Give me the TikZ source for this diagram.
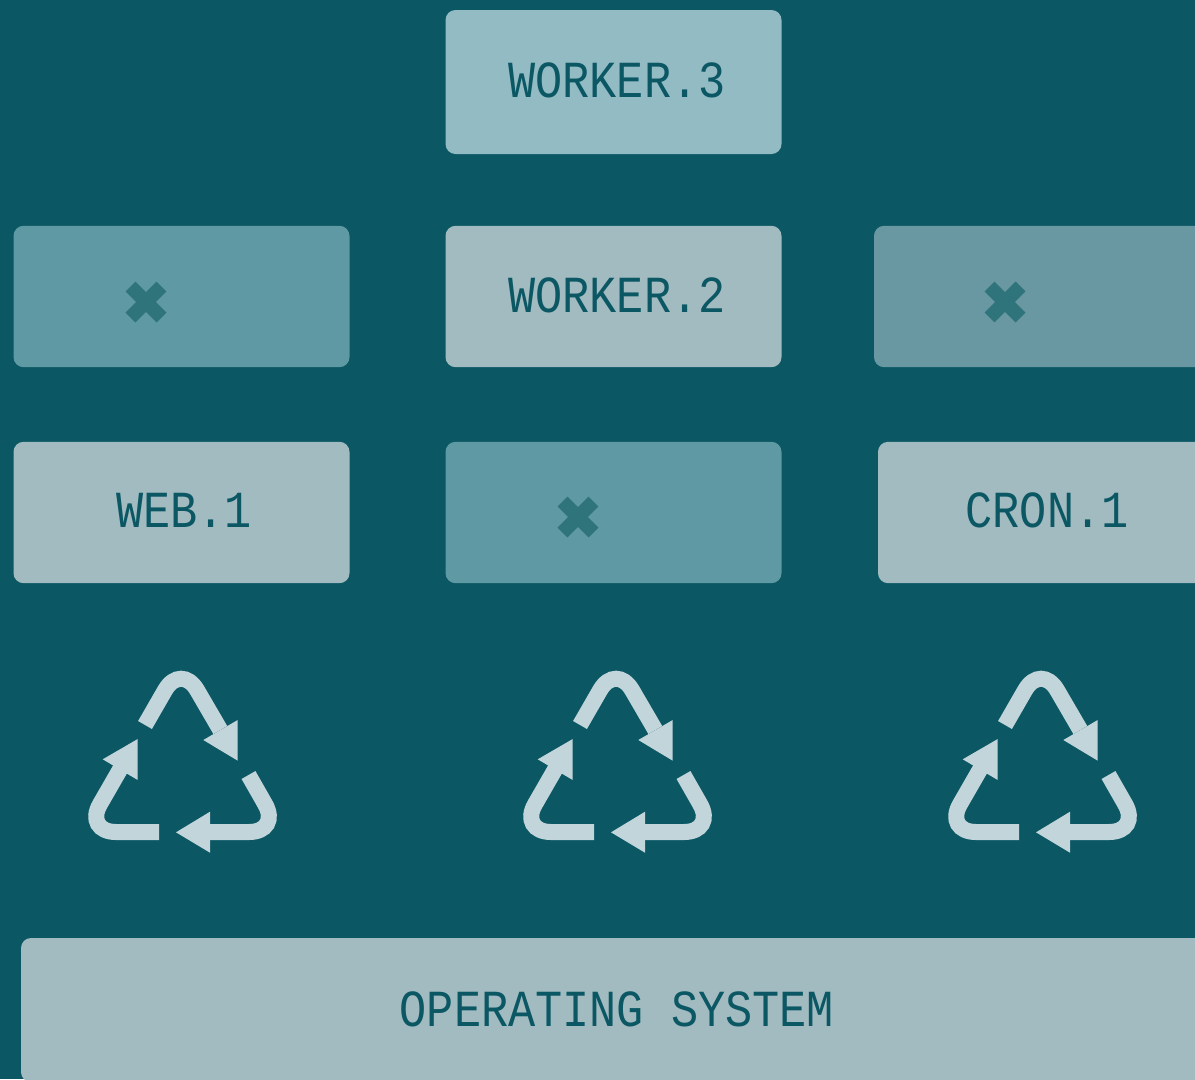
\documentclass[tikz,border=0pt]{standalone}
\usepackage{fontspec}
\newfontfamily\boxfont[FakeStretch=0.87]{Liberation Mono}
\definecolor{bgteal}{HTML}{0B5764}
\definecolor{boxlight}{HTML}{A1BBC0}
\definecolor{boxblue}{HTML}{93BBC4}
\definecolor{boxdim}{HTML}{5F99A3}
\definecolor{boxgrey}{HTML}{6A98A2}
\definecolor{crossteal}{HTML}{2F737B}
\definecolor{iconpale}{HTML}{C2D5DA}
\tikzset{
  box/.style={rectangle,rounded corners=7.5pt,minimum width=252pt,minimum height=106pt,inner sep=0pt},
  boxtext/.style={inner sep=0pt,text=bgteal,font=\boxfont\fontsize{39pt}{39pt}\selectfont},
  pics/xmark/.style={code={
    \draw[crossteal,line width=10.5pt] (-15.5,-15.5) -- (15.5,15.5);
    \draw[crossteal,line width=10.5pt] (-15.5,15.5) -- (15.5,-15.5);
  }},
  pics/recycle/.style={code={
    \begin{scope}[iconpale,line width=12pt,rounded corners=24pt]
      \draw (75,65) -- (111,2.5) -- (150.3,70);
      \draw (178.5,115) -- (211,172) -- (140,172);
      \draw (89,172) -- (14,172) -- (52,106);
    \end{scope}
    \fill[iconpale] (167.7,60) -- (167.7,100.7) -- (133.3,80) -- cycle;
    \fill[iconpale] (140,151.7) -- (140,192.7) -- (106,172.3) -- cycle;
    \fill[iconpale] (67.7,79) -- (67.7,120) -- (32.7,99.3) -- cycle;
  }}
}
\begin{document}
\begin{tikzpicture}[x=0.75pt,y=-0.75pt]
  \useasboundingbox (0,0) rectangle (1195,1079);
  \clip (0,0) rectangle (1195,1079);
  \fill[bgteal] (0,0) rectangle (1195,1079);

  \node[box,fill=boxblue,minimum height=108pt] (worker3) at (613.5,82) {};
  \node[box,fill=boxdim] (crashleft) at (181.5,296.5) {};
  \node[box,fill=boxlight] (worker2) at (613.5,296.5) {};
  \node[box,fill=boxgrey] (crashright) at (1042,296.5) {};
  \node[box,fill=boxlight] (web1) at (181.5,512.5) {};
  \node[box,fill=boxdim] (crashmid) at (613.5,512.5) {};
  \node[box,fill=boxlight] (cron1) at (1046,512.5) {};
  \node[box,fill=boxlight,minimum width=894pt,minimum height=108pt] (os) at (617,1010) {};

  \node[boxtext] (worker3text) at (617,80) {WORKER.3};
  \node[boxtext] (worker2text) at (617,295) {WORKER.2};
  \node[boxtext] (web1text) at (184,510) {WEB.1};
  \node[boxtext] (cron1text) at (1047,510) {CRON.1};
  \node[boxtext] (ostext) at (617,1009) {OPERATING SYSTEM};

  \pic at (146,302) {xmark};
  \pic at (1005,302) {xmark};
  \pic at (578,517) {xmark};

  \pic at (70,660) {recycle};
  \pic at (505,660) {recycle};
  \pic at (930,660) {recycle};
\end{tikzpicture}
\end{document}
